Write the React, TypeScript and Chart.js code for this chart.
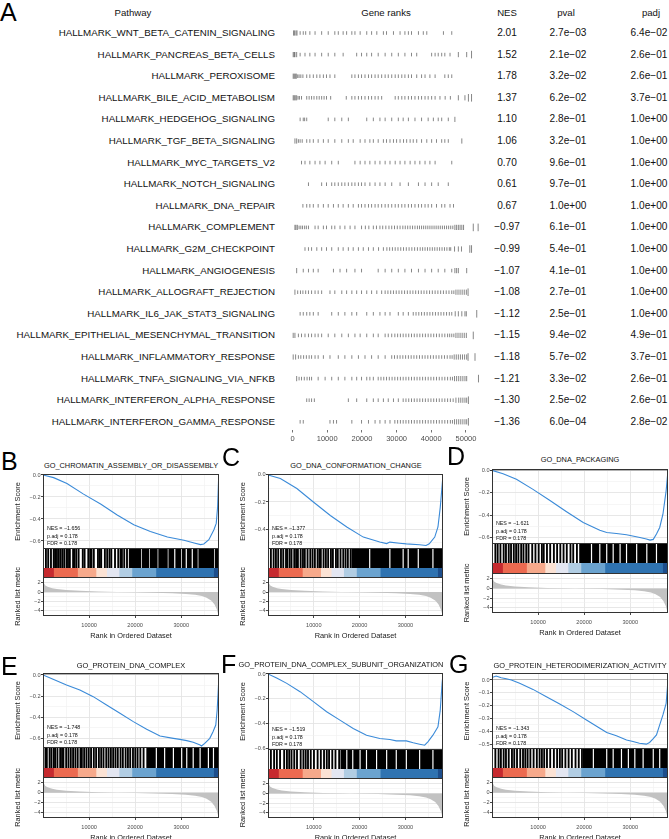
import React, { useEffect, useRef } from 'react';
import { Chart, registerables } from 'chart.js';
Chart.register(...registerables);

const FONT = "'Liberation Sans', Arial, Helvetica, sans-serif";

// ---------------- DATA: Panel A (fgsea table) ----------------
const pathways = [
  'HALLMARK_WNT_BETA_CATENIN_SIGNALING', 'HALLMARK_PANCREAS_BETA_CELLS', 'HALLMARK_PEROXISOME',
  'HALLMARK_BILE_ACID_METABOLISM', 'HALLMARK_HEDGEHOG_SIGNALING', 'HALLMARK_TGF_BETA_SIGNALING',
  'HALLMARK_MYC_TARGETS_V2', 'HALLMARK_NOTCH_SIGNALING', 'HALLMARK_DNA_REPAIR', 'HALLMARK_COMPLEMENT',
  'HALLMARK_G2M_CHECKPOINT', 'HALLMARK_ANGIOGENESIS', 'HALLMARK_ALLOGRAFT_REJECTION',
  'HALLMARK_IL6_JAK_STAT3_SIGNALING', 'HALLMARK_EPITHELIAL_MESENCHYMAL_TRANSITION',
  'HALLMARK_INFLAMMATORY_RESPONSE', 'HALLMARK_TNFA_SIGNALING_VIA_NFKB',
  'HALLMARK_INTERFERON_ALPHA_RESPONSE', 'HALLMARK_INTERFERON_GAMMA_RESPONSE',
];
const nesValues = [2.01, 1.52, 1.78, 1.37, 1.10, 1.06, 0.70, 0.61, 0.67, -0.97, -0.99, -1.07, -1.08, -1.12, -1.15, -1.18, -1.21, -1.30, -1.36];
const pvalValues = [2.7e-3, 2.1e-2, 3.2e-2, 6.2e-2, 2.8e-1, 3.2e-1, 9.6e-1, 9.7e-1, 1.0, 6.1e-1, 5.4e-1, 4.1e-1, 2.7e-1, 2.5e-1, 9.4e-2, 5.7e-2, 3.3e-2, 2.5e-2, 6.0e-4];
const padjValues = [6.4e-2, 2.6e-1, 2.6e-1, 3.7e-1, 1.0, 1.0, 1.0, 1.0, 1.0, 1.0, 1.0, 1.0, 1.0, 1.0, 4.9e-1, 3.7e-1, 2.6e-1, 2.6e-1, 2.8e-2];
const geneRankTicks = [0, 10000, 20000, 30000, 40000, 50000];

// gene positions (thousands of ranks) for each pathway row
const r1 = [0.3,0.6,1.0,1.3,2.2,3.1,3.8,5.0,6.5,8.4,10.3,12.2,13.2,14.6,15.6,17.1,18.0,19.5,21.4,22.8,24.3,26.2,27.1,29.1,31.0,32.4,33.4,34.3,36.3,37.7,38.7,43.5,45.9];
const r2 = [0.2,0.5,0.7,1.2,2.2,3.6,5.0,6.5,8.4,10.3,12.2,14.6,18.5,19.9,21.4,22.8,24.7,26.7,28.6,30.5,32.4,34.3,35.8,40.1,41.1,42.0,43.0,43.9,45.4,47.8,50.2,51.6];
const r3 = [0.2,0.5,0.8,1.1,1.5,1.9,2.4,3.0,4.1,5.0,6.0,7.0,7.9,8.9,9.8,10.8,12.2,17.1,18.0,19.0,19.9,20.9,21.9,22.8,23.8,24.7,25.7,26.7,27.6,28.6,29.6,30.5,31.5,32.4,33.4,34.3,35.8,37.2,38.2,39.6,41.1,43.9,44.9,45.9];
const r4 = [0.2,0.5,0.8,1.2,1.6,2.0,2.6,4.1,4.8,5.5,6.2,7.0,7.7,8.4,9.1,9.8,11.0,15.5,17.1,18.0,19.0,19.9,20.9,21.9,22.8,23.8,24.7,25.7,29.6,30.5,31.5,32.4,33.4,34.3,35.3,36.3,37.2,38.2,39.1,40.1,41.1,42.5,44.0,45.5,47.8,49.7,50.7,51.6];
const r5 = [2.2,3.1,3.5,4.1,10.3,12.2,14.2,16.1,21.4,23.3,25.2,26.7,28.6,30.5,31.9,33.4,35.3,37.2,39.1,40.6,42.0,43.0,44.9,46.8];
const r6 = [0.7,1.2,1.7,2.2,2.8,4.1,5.0,6.0,7.4,8.9,10.3,12.2,14.2,16.1,17.5,19.5,20.9,22.3,23.3,24.7,26.2,27.1,28.1,29.1,30.0,31.0,32.0,32.9,33.9,34.8,35.8,37.2,38.7,40.1,41.5,43.0,43.9,44.9,48.8];
const r7 = [2.6,3.6,5.0,6.5,7.9,9.4,11.3,13.2,18.0,19.5,20.9,22.3,23.8,25.2,26.7,28.1,29.6,31.0,32.4,33.9,35.3,36.7,38.2,39.6,41.1,45.9];
const r8 = [4.6,8.4,9.8,11.3,12.2,13.2,14.2,15.1,16.1,17.1,18.0,19.0,19.9,20.9,22.3,23.8,25.2,26.7,28.6,31.0,33.4,36.3,38.2,40.1,42.0,44.9];
const r9 = [3.0,4.1,5.0,6.0,7.4,8.9,10.3,11.8,13.2,14.6,16.1,17.5,19.0,19.9,20.9,21.9,22.8,23.8,24.7,25.7,26.7,27.6,28.6,29.6,30.5,31.5,32.4,33.4,34.3,35.3,36.3,37.2,38.2,39.1,40.1,41.5,43.0,43.9,45.4,46.4];
const r10 = [0.7,1.0,1.4,1.9,2.4,2.9,3.5,4.0,4.6,6.5,7.4,8.9,9.8,11.3,12.2,13.7,15.1,16.6,18.0,19.9,21.0,22.0,23.3,24.2,25.2,26.0,26.9,27.8,28.6,29.4,30.2,31.0,31.8,32.5,33.2,33.9,34.6,35.3,36.0,36.6,37.2,37.8,38.4,39.0,39.6,40.2,40.8,41.4,42.0,42.6,43.2,43.8,44.4,45.0,45.6,46.2,46.8,47.3,47.8,48.3,48.8,49.3,52.1,53.5];
const r11 = [3.6,4.6,5.5,7.0,8.4,9.8,11.3,13.2,14.6,16.1,17.5,19.0,20.4,21.9,23.3,24.8,26.2,27.2,28.0,28.8,29.6,30.4,31.2,32.0,32.8,33.6,34.4,35.2,36.0,36.8,37.5,38.2,38.9,39.6,40.3,41.0,41.7,42.4,43.1,43.8,44.5,45.2,45.6,46.7,47.8,48.7,51.1,51.6];
const r12 = [1.2,3.1,4.6,6.0,7.4,11.8,13.7,15.6,18.0,19.9,24.7,26.7,28.6,30.5,32.4,34.3,36.3,38.2,40.1,42.0,43.9,45.9,46.8,47.3,47.8,50.2];
const r13 = [0.7,1.5,2.3,3.0,3.8,4.6,5.5,6.5,7.4,8.4,10.8,12.2,14.2,15.6,17.1,18.5,19.9,21.4,22.8,24.3,25.7,26.7,27.5,28.3,29.1,29.9,30.7,31.5,32.3,33.1,33.9,34.7,35.5,36.3,37.1,37.9,38.7,39.5,40.3,41.1,41.9,42.7,43.5,44.3,45.1,45.9,46.5,47.1,47.7,48.3,48.9,49.5,50.1,50.6];
const r14 = [2.2,3.1,4.1,5.0,6.0,7.4,11.3,13.2,15.1,17.1,18.5,21.4,23.3,25.2,26.7,28.1,30.5,31.9,33.4,34.8,35.6,36.4,37.2,38.0,38.8,39.6,40.4,41.2,42.0,42.8,43.6,44.4,45.2,45.9,46.9,47.8,48.8,49.7,50.1,53.1];
const r15 = [0.2,0.7,1.7,2.6,3.6,4.6,5.5,6.5,7.4,8.4,10.3,12.2,14.2,16.1,18.0,19.5,21.4,23.3,24.7,26.7,27.6,28.6,29.5,30.3,31.1,31.9,32.7,33.5,34.3,35.1,35.9,36.7,37.5,38.3,39.1,39.9,40.7,41.5,42.3,43.1,43.9,44.7,45.3,45.9,46.5,47.1,47.7,48.3,48.9,49.5,50.1,52.1];
const r16 = [0.2,0.9,1.7,2.4,3.2,4.0,4.8,5.5,6.5,7.4,8.9,10.8,13.2,15.1,17.1,19.0,20.9,22.8,24.7,26.7,28.6,29.4,30.2,31.0,31.8,32.6,33.4,34.2,35.0,35.8,36.6,37.4,38.2,39.0,39.8,40.6,41.4,42.2,43.0,43.8,44.6,45.4,46.0,46.6,47.2,47.8,48.4,49.0,49.6,50.2,50.6,52.6];
const r17 = [1.2,1.9,2.6,3.4,4.2,4.9,5.5,7.4,9.4,11.3,13.2,15.1,17.1,18.5,19.9,21.4,22.3,23.3,24.7,25.5,26.3,27.1,27.9,28.7,29.5,30.3,31.1,31.9,32.7,33.5,34.3,35.1,35.9,36.7,37.5,38.3,39.1,39.9,40.7,41.5,42.3,43.1,43.9,44.7,45.5,46.1,46.7,47.3,47.9,48.5,49.1,49.7,50.2,53.6];
const r18 = [4.1,4.8,5.5,6.3,16.1,18.5,21.4,23.3,24.7,26.2,27.6,29.1,30.5,31.9,32.7,33.5,34.3,35.1,35.9,36.7,37.5,38.3,39.1,39.9,40.7,41.5,42.3,43.1,43.9,44.7,45.5,46.3,47.1,47.9,48.5,49.1,49.7,50.2,50.7];
const r19 = [2.2,3.1,10.8,11.8,12.7,17.1,19.9,21.9,23.8,25.2,26.7,28.1,29.5,30.3,31.1,31.9,32.7,33.5,34.3,35.1,35.9,36.7,37.5,38.3,39.1,39.9,40.7,41.5,42.3,43.1,43.9,44.7,45.5,46.1,46.7,47.3,47.9,48.5,49.1,49.7,50.2,50.7];
const geneRankRows = [r1, r2, r3, r4, r5, r6, r7, r8, r9, r10, r11, r12, r13, r14, r15, r16, r17, r18, r19];

// ---------------- DATA: GSEA panels B-G ----------------
const gseaIds = ['B', 'C', 'D', 'E', 'F', 'G'];
const gseaTitles = ['GO_CHROMATIN_ASSEMBLY_OR_DISASSEMBLY', 'GO_DNA_CONFORMATION_CHANGE', 'GO_DNA_PACKAGING', 'GO_PROTEIN_DNA_COMPLEX', 'GO_PROTEIN_DNA_COMPLEX_SUBUNIT_ORGANIZATION', 'GO_PROTEIN_HETERODIMERIZATION_ACTIVITY'];
const gseaNES = [-1.656, -1.377, -1.621, -1.748, -1.519, -1.343];
const gseaPadj = [0.178, 0.178, 0.178, 0.178, 0.178, 0.178];
const gseaFDR = [0.178, 0.178, 0.178, 0.178, 0.178, 0.178];
const N_RANKS = 38.2; // thousands

// running enrichment score: rank (thousands) / score
const esRankB = [0,2.3,5.2,8.8,12.5,16.1,19.7,23.3,27.0,30.6,32.8,34.2,34.9,36.0,37.1,37.6,37.9,38.1,38.2];
const esScoreB = [0,-0.024,-0.078,-0.174,-0.264,-0.363,-0.453,-0.513,-0.564,-0.594,-0.618,-0.633,-0.627,-0.588,-0.498,-0.44,-0.29,-0.05,0];
const esRankC = [0,2.7,6.3,9.9,13.6,17.2,20.8,24.4,25.9,26.6,28.7,30.2,33.1,34.5,35.2,36.4,37.1,37.6,38.2];
const esScoreC = [0,-0.027,-0.10,-0.20,-0.30,-0.385,-0.46,-0.496,-0.508,-0.497,-0.505,-0.51,-0.516,-0.522,-0.51,-0.46,-0.385,-0.24,0];
const esRankD = [0,2.4,5.3,8.9,12.5,16.1,19.8,23.4,24.9,27.0,29.2,32.1,33.5,34.3,35.0,35.7,36.4,37.1,37.8,38.2];
const esScoreD = [0,-0.03,-0.08,-0.169,-0.266,-0.366,-0.464,-0.532,-0.553,-0.561,-0.573,-0.597,-0.611,-0.62,-0.614,-0.567,-0.508,-0.39,-0.18,0];
const esRankE = [0,2.2,5.1,8.0,10.9,13.8,16.7,19.6,22.5,25.4,28.3,29.7,31.2,32.6,34.1,34.4,35.1,36.2,36.9,37.5,37.8,38.0,38.2];
const esScoreE = [0,-0.041,-0.095,-0.143,-0.206,-0.286,-0.365,-0.444,-0.517,-0.581,-0.603,-0.613,-0.625,-0.641,-0.667,-0.676,-0.651,-0.603,-0.54,-0.476,-0.333,-0.175,0];
const esRankF = [0,2.0,4.1,7.0,9.9,12.8,15.7,18.6,21.5,24.4,26.6,28.0,30.2,31.7,33.1,34.2,34.9,36.0,37.1,37.6,38.0,38.2];
const esScoreF = [0,-0.035,-0.076,-0.143,-0.224,-0.305,-0.373,-0.441,-0.495,-0.522,-0.530,-0.541,-0.541,-0.557,-0.568,-0.576,-0.549,-0.495,-0.427,-0.292,-0.076,0];
const esRankG = [0,0.9,2.0,3.1,4.2,6.0,8.9,11.8,14.7,17.6,20.5,23.4,24.9,27.0,29.2,30.6,32.0,33.5,34.2,34.9,35.7,36.4,37.1,37.8,38.2];
const esScoreG = [0.02,0.031,0.018,0.01,0,-0.026,-0.073,-0.13,-0.187,-0.247,-0.312,-0.377,-0.41,-0.436,-0.468,-0.481,-0.494,-0.501,-0.488,-0.462,-0.429,-0.351,-0.273,-0.182,0];
const esRanks = [esRankB, esRankC, esRankD, esRankE, esRankF, esRankG];
const esScores = [esScoreB, esScoreC, esScoreD, esScoreE, esScoreF, esScoreG];

// hits (thousands of ranks): single genes or contiguous runs [from, to]
const hitsB = [0.5,1.0,1.6,2.2,2.5,2.9,3.3,3.7,4.1,4.5,5.0,5.3,5.7,6.4,6.7,7.1,7.6,8.5,8.9,9.7,10.1,10.4,10.9,11.8,12.2,12.5,13.3,13.8,14.3,14.7,15.5,16.2,16.7,17.0,17.5,18.1,[18.7,21.2],[21.5,23.0],[23.3,24.8],[25.1,27.0],[27.3,28.4],[28.8,29.9],[30.2,30.9],[31.3,32.2],[32.6,33.5],[33.8,37.1],[37.4,38.2]];
const hitsC = [0.5,1.1,1.6,2.1,2.7,3.2,3.8,4.1,4.6,5.0,5.6,6.0,6.4,7.0,7.5,7.9,8.5,9.1,9.6,10.1,10.7,11.1,11.4,12.0,12.5,13.0,13.6,[14.0,14.3],14.7,15.1,15.7,16.3,16.8,17.3,17.9,[18.3,22.0],[22.4,26.4],[26.8,29.3],[29.7,30.4],[30.8,32.6],[33.0,35.8],[36.2,38.2]];
const hitsD = [0.6,1.1,1.7,2.4,2.9,3.5,4.0,4.6,5.1,5.6,6.2,6.7,7.3,7.8,8.6,9.3,10.0,10.7,11.1,11.8,12.5,13.3,14.0,14.7,15.4,16.1,16.9,17.5,18.3,[19.0,21.4],[21.8,23.2],[23.6,24.7],[25.1,26.1],[26.5,27.6],[28.0,29.0],[29.4,31.2],[31.6,33.4],[33.8,35.5],[35.9,38.2]];
const hitsE = [0.4,0.7,1.3,1.7,2.2,2.5,3.0,3.6,4.0,4.3,4.9,5.4,5.9,6.4,6.9,7.4,8.0,8.3,8.8,9.3,9.8,10.3,10.9,11.4,12.0,12.5,13.0,13.6,14.1,14.6,15.1,15.6,16.1,16.7,17.2,17.8,18.3,18.8,19.4,19.9,20.4,21.0,21.7,22.5,[22.8,24.4],[24.8,26.2],[26.6,28.1],[28.5,29.9],[30.3,31.0],[31.4,32.4],[32.8,33.9],[34.3,35.7],[36.1,36.8],[37.2,38.2]];
const hitsF = [0.5,1.2,1.8,2.5,3.4,4.0,4.5,5.0,5.6,6.2,7.0,7.6,8.1,8.6,9.2,9.9,10.7,11.4,12.1,12.7,13.2,13.9,14.6,15.4,15.9,[16.1,17.0],[17.4,18.3],[18.7,19.9],[20.3,21.3],[21.7,23.5],[23.9,25.7],[26.1,27.8],[28.2,30.0],[30.4,32.9],[33.3,35.8],[36.2,38.2]];
const hitsG = [0.6,1.3,1.8,2.4,2.9,3.5,4.2,4.7,5.3,6.0,6.6,7.1,7.6,8.2,8.9,9.6,10.2,10.7,11.2,11.8,12.5,13.3,14.0,14.6,15.1,15.8,16.5,17.2,18.0,18.7,19.4,[19.8,21.8],[22.2,24.7],[25.1,26.1],[26.5,27.9],[28.3,29.4],[29.8,30.8],[31.2,32.6],[33.0,34.8],[35.2,36.2],[36.6,38.2]];
const gseaHits = [hitsB, hitsC, hitsD, hitsE, hitsF, hitsG];

// ranked list metric (shared)
const rankMetricX = [0,0.15,0.5,1,2,3,5,8,12,16,20,24,28,31,33,34.5,35.5,36.5,37.2,37.7,38.0,38.2];
const rankMetricY = [3.0,2.0,1.4,1.1,0.8,0.62,0.42,0.25,0.1,0.02,-0.05,-0.13,-0.25,-0.4,-0.6,-0.85,-1.2,-1.8,-2.6,-3.6,-4.6,-5.0];

// colour band (rank breaks in thousands + RdBu colours)
const bandBreaks = [0, 2.3, 7.5, 11.5, 13.8, 16.5, 19.3, 24.5, 37.0, 38.2];
const bandColors = ['#c62a2f', '#ec6a50', '#f6a98b', '#fbe2d4', '#e3e6f1', '#b1cde3', '#6ba3cf', '#2f73b1', '#1d4e8c'];

// tick labels
const esTicksB = [0, -0.2, -0.4, -0.6];
const esTicksC = [0, -0.2, -0.4];
const esTicksD = [0, -0.2, -0.4, -0.6];
const esTicksE = [0, -0.2, -0.4, -0.6];
const esTicksF = [0, -0.2, -0.4, -0.6];
const esTicksG = [0, -0.1, -0.2, -0.3, -0.4, -0.5];
const esTicks = [esTicksB, esTicksC, esTicksD, esTicksE, esTicksF, esTicksG];
const rankTicks = [2, 0, -2, -4];
const rankXTicks = [10000, 20000, 30000];
const rankXGrid = [5, 10, 15, 20, 25, 30, 35];

// ---------------- LAYOUT ----------------
const LAYOUT = [
  { L: 43, R: 219, top: 474, esH: 75, bcH: 19, colH: 9, rkH: 39, esMin: -0.673, esMax: 0.009, titleX: 131, titleY: 466, letterX: 1, letterY: 449 },
  { L: 268, R: 443, top: 474, esH: 75, bcH: 19, colH: 9, rkH: 39, esMin: -0.548, esMax: 0.007, titleX: 356, titleY: 466, letterX: 222, letterY: 445 },
  { L: 492, R: 668, top: 469, esH: 75, bcH: 19, colH: 10, rkH: 40, esMin: -0.655, esMax: 0.012, titleX: 580, titleY: 460, letterX: 447, letterY: 444 },
  { L: 43, R: 219, top: 673, esH: 75, bcH: 20, colH: 9, rkH: 41, esMin: -0.695, esMax: 0.019, titleX: 131, titleY: 666, letterX: 1, letterY: 654 },
  { L: 268, R: 443, top: 673, esH: 77, bcH: 19, colH: 9, rkH: 40, esMin: -0.615, esMax: 0.008, titleX: 341, titleY: 665, letterX: 221, letterY: 652 },
  { L: 492, R: 668, top: 673, esH: 76, bcH: 19, colH: 9, rkH: 41, esMin: -0.539, esMax: 0.055, titleX: 580, titleY: 666, letterX: 449, letterY: 652 },
];
const RANK_Y_MIN = -5.1;
const RANK_Y_MAX = 3.2;
const ES_COLOR = '#3a8ad8';
const GRID_MAJOR = '#e4e4e4';
const GRID_MINOR = '#f0f0f0';
const AXIS_TEXT = '#4d4d4d';
const ROW0_Y = 33;
const ROW_STEP = 21.6;

// ---------------- helpers ----------------
const minus = (s) => s.replace(/-/g, '\u2212');
const fmtE = (v) => {
  const [m, e] = v.toExponential(1).split('e');
  const n = parseInt(e, 10);
  return `${m}e${n < 0 ? '\u2212' : '+'}${String(Math.abs(n)).padStart(2, '0')}`;
};
const fmtNES = (v) => minus(v.toFixed(2));

const baseOpts = {
  animation: false,
  responsive: false,
  devicePixelRatio: 1,
  events: [],
  plugins: { legend: { display: false }, tooltip: { enabled: false } },
};

function ChartBox({ left, top, width, height, config }) {
  const ref = useRef(null);
  useEffect(() => {
    const chart = new Chart(ref.current, config);
    return () => chart.destroy();
  }, []);
  return (
    <canvas
      ref={ref}
      width={width}
      height={height}
      style={{ position: 'absolute', left, top, width, height }}
    />
  );
}

function Txt({ x, y, size, align = 'center', color = '#111', children }) {
  const tx = align === 'center' ? '-50%' : align === 'right' ? '-100%' : '0';
  return (
    <div
      style={{
        position: 'absolute', left: x, top: y, transform: `translate(${tx}, -50%)`,
        fontSize: size, lineHeight: 1, fontFamily: FONT, color, whiteSpace: 'nowrap',
      }}
    >
      {children}
    </div>
  );
}

function Letter({ x, y, children }) {
  return (
    <div style={{ position: 'absolute', left: x, top: y, fontSize: 25, lineHeight: '25px', fontFamily: FONT, color: '#000' }}>
      {children}
    </div>
  );
}

// ---------------- Panel A ----------------
function tableConfig() {
  const points = geneRankRows.flatMap((row, i) => row.map((v) => ({ x: v * 1000, y: i })));
  return {
    type: 'scatter',
    data: {
      datasets: [{
        data: points,
        pointStyle: 'line',
        pointRotation: 90,
        pointRadius: (c) => {
          const x = c.raw ? c.raw.x : 0;
          if (x > 50500) return 3.8;
          if (x > 46500) return 2.6;
          if (x < 1500) return 2.6;
          return 1.8;
        },
        pointBorderColor: 'rgba(0,0,0,0.8)',
        pointBorderWidth: 0.6,
        pointBackgroundColor: '#000',
      }],
    },
    options: {
      ...baseOpts,
      layout: { padding: { left: 5, right: 5, top: 22.2, bottom: 2.5 } },
      scales: {
        x: {
          type: 'linear', min: -2160, max: 55480,
          afterBuildTicks: (s) => { s.ticks = geneRankTicks.map((v) => ({ value: v })); },
          afterFit: (s) => { s.height = 18; },
          ticks: { autoSkip: false, maxRotation: 0, padding: 1.5, font: { family: FONT, size: 7.5 }, color: AXIS_TEXT, callback: (v) => String(v) },
          grid: { drawOnChartArea: false, tickLength: 3, tickColor: '#333', tickWidth: 0.7 },
          border: { display: false },
        },
        y: { type: 'linear', reverse: true, min: -0.5, max: 18.356, display: false },
      },
    },
  };
}

function TablePanel() {
  return (
    <>
      <Letter x={0} y={0}>A</Letter>
      <Txt x={133} y={13} size={9.6}>Pathway</Txt>
      <Txt x={386} y={13} size={9.6}>Gene ranks</Txt>
      <Txt x={507} y={13} size={9.6}>NES</Txt>
      <Txt x={566} y={13} size={9.6}>pval</Txt>
      <Txt x={651} y={13} size={9.6}>padj</Txt>
      {pathways.map((p, i) => {
        const y = ROW0_Y + i * ROW_STEP;
        return (
          <React.Fragment key={p}>
            <Txt x={275} y={y} size={9.75} align="right">{p}</Txt>
            <Txt x={507} y={y} size={10.1}>{fmtNES(nesValues[i])}</Txt>
            <Txt x={568} y={y} size={10.1}>{fmtE(pvalValues[i])}</Txt>
            <Txt x={649} y={y} size={10.1}>{fmtE(padjValues[i])}</Txt>
          </React.Fragment>
        );
      })}
      <ChartBox left={280} top={0} width={210} height={450} config={tableConfig()} />
    </>
  );
}

// ---------------- GSEA panels ----------------
const isIn = (arr, v) => arr.some((a) => Math.abs(a - v) < 1e-6);

function withMinors(majors, lo, hi) {
  const step = Math.abs(majors[1] - majors[0]);
  const out = [...majors];
  majors.forEach((m) => {
    [step / 2, -step / 2].forEach((d) => {
      const v = +(m + d).toFixed(5);
      if (v >= lo && v <= hi && !isIn(out, v)) out.push(v);
    });
  });
  return out.sort((a, b) => a - b);
}

const xGridOpts = {
  color: (c) => (c.tick && c.tick.value % 10000 === 0 ? GRID_MAJOR : GRID_MINOR),
  lineWidth: (c) => (c.tick && c.tick.value % 10000 === 0 ? 0.9 : 0.6),
};

function esConfig(i) {
  const lay = LAYOUT[i];
  const majors = esTicks[i];
  const yt = withMinors(majors, lay.esMin, lay.esMax);
  return {
    type: 'line',
    data: {
      datasets: [{
        data: esRanks[i].map((x, k) => ({ x: x * 1000, y: esScores[i][k] })),
        borderColor: ES_COLOR, borderWidth: 1.1, pointRadius: 0, tension: 0, fill: false,
      }],
    },
    options: {
      ...baseOpts,
      layout: { padding: { left: 0, right: 4, top: 6, bottom: 6 } },
      scales: {
        x: {
          type: 'linear', min: 0, max: N_RANKS * 1000,
          afterBuildTicks: (s) => { s.ticks = rankXGrid.map((v) => ({ value: v * 1000 })); },
          afterFit: (s) => { s.height = 0; },
          ticks: { display: false },
          grid: { drawTicks: false, ...xGridOpts },
          border: { display: false },
        },
        y: {
          type: 'linear', min: lay.esMin, max: lay.esMax,
          afterBuildTicks: (s) => { s.ticks = yt.map((v) => ({ value: v })); },
          afterFit: (s) => { s.width = 43; },
          ticks: {
            autoSkip: false, padding: 0.5, font: { family: FONT, size: 5.6 }, color: AXIS_TEXT,
            callback: (v) => (isIn(majors, v) ? minus(Number(v).toFixed(1)) : ''),
          },
          grid: {
            tickLength: 2,
            tickColor: (c) => (isIn(majors, c.tick.value) ? '#333' : 'rgba(0,0,0,0)'),
            color: (c) => (Math.abs(c.tick.value) < 1e-9 ? '#b3b3b3' : isIn(majors, c.tick.value) ? GRID_MAJOR : GRID_MINOR),
            lineWidth: (c) => (Math.abs(c.tick.value) < 1e-9 ? 1.1 : isIn(majors, c.tick.value) ? 0.9 : 0.6),
          },
          border: { display: false },
          title: { display: true, text: 'Enrichment Score', font: { family: FONT, size: 7.4 }, color: '#1a1a1a', padding: { top: 13.5, bottom: 0 } },
        },
      },
    },
  };
}

function stripConfig(runs, colors, minLen) {
  return {
    type: 'bar',
    data: {
      labels: ['s'],
      datasets: runs.map((r, k) => ({
        data: [[r[0] * 1000, r[1] * 1000]],
        backgroundColor: colors[k],
        borderWidth: 0,
        barPercentage: 1,
        categoryPercentage: 1,
        grouped: false,
        minBarLength: minLen,
      })),
    },
    options: {
      ...baseOpts,
      indexAxis: 'y',
      layout: { padding: 0 },
      scales: {
        x: { type: 'linear', min: 0, max: N_RANKS * 1000, display: false },
        y: { display: false },
      },
    },
  };
}

function barcodeConfig(i) {
  const runs = gseaHits[i].map((h) => (typeof h === 'number' ? [h, h] : h));
  return stripConfig(runs, runs.map(() => '#000'), 1.2);
}

function bandConfig() {
  const runs = bandColors.map((_, k) => [bandBreaks[k], bandBreaks[k + 1]]);
  return stripConfig(runs, bandColors, 0);
}

function rankConfig() {
  const yt = withMinors(rankTicks.slice().sort((a, b) => b - a), RANK_Y_MIN, RANK_Y_MAX);
  return {
    type: 'line',
    data: {
      datasets: [{
        data: rankMetricX.map((x, k) => ({ x: x * 1000, y: rankMetricY[k] })),
        borderColor: 'rgba(0,0,0,0)', borderWidth: 0, backgroundColor: '#c2c2c2',
        fill: 'origin', pointRadius: 0, tension: 0,
      }],
    },
    options: {
      ...baseOpts,
      layout: { padding: { left: 0, right: 6, top: 14, bottom: 0 } },
      scales: {
        x: {
          type: 'linear', min: 0, max: N_RANKS * 1000,
          afterBuildTicks: (s) => { s.ticks = rankXGrid.map((v) => ({ value: v * 1000 })); },
          afterFit: (s) => { s.height = 26; },
          ticks: {
            autoSkip: false, maxRotation: 0, padding: 4, font: { family: FONT, size: 5.6 }, color: AXIS_TEXT,
            callback: (v) => (rankXTicks.includes(v) ? String(v) : ''),
          },
          grid: {
            tickLength: 2,
            tickColor: (c) => (rankXTicks.includes(c.tick.value) ? '#333' : 'rgba(0,0,0,0)'),
            ...xGridOpts,
          },
          border: { display: false },
          title: { display: true, text: 'Rank in Ordered Dataset', font: { family: FONT, size: 7.4 }, color: '#1a1a1a', padding: { top: 0, bottom: 2 } },
        },
        y: {
          type: 'linear', min: RANK_Y_MIN, max: RANK_Y_MAX,
          afterBuildTicks: (s) => { s.ticks = yt.map((v) => ({ value: v })); },
          afterFit: (s) => { s.width = 43; },
          ticks: {
            autoSkip: false, padding: 0.5, font: { family: FONT, size: 5.6 }, color: AXIS_TEXT,
            callback: (v) => (rankTicks.includes(v) ? minus(String(v)) : ''),
          },
          grid: {
            tickLength: 2,
            tickColor: (c) => (rankTicks.includes(c.tick.value) ? '#333' : 'rgba(0,0,0,0)'),
            color: (c) => (rankTicks.includes(c.tick.value) ? GRID_MAJOR : GRID_MINOR),
            lineWidth: (c) => (rankTicks.includes(c.tick.value) ? 0.9 : 0.6),
          },
          border: { display: false },
          title: { display: true, text: 'Ranked list metric', font: { family: FONT, size: 7.4 }, color: '#1a1a1a', padding: { top: 13.5, bottom: 0 } },
        },
      },
    },
  };
}

function GseaPanel({ i }) {
  const lay = LAYOUT[i];
  const W = lay.R - lay.L;
  const esBot = lay.top + lay.esH;
  const bcBot = esBot + lay.bcH;
  const colBot = bcBot + lay.colH;
  const total = lay.esH + lay.bcH + lay.colH + lay.rkH;
  const line = '#333';
  return (
    <>
      <Letter x={lay.letterX} y={lay.letterY}>{gseaIds[i]}</Letter>
      <Txt x={lay.titleX} y={lay.titleY} size={7.4}>{gseaTitles[i]}</Txt>
      <ChartBox left={lay.L - 43} top={lay.top - 6} width={W + 47} height={lay.esH + 12} config={esConfig(i)} />
      <ChartBox left={lay.L} top={esBot} width={W} height={lay.bcH} config={barcodeConfig(i)} />
      <ChartBox left={lay.L} top={bcBot} width={W} height={lay.colH} config={bandConfig()} />
      <ChartBox left={lay.L - 43} top={colBot - 14} width={W + 49} height={lay.rkH + 40} config={rankConfig()} />
      <Txt x={lay.L + 4} y={esBot - 20} size={5.3} align="left">{`NES = ${minus(gseaNES[i].toFixed(3))}`}</Txt>
      <Txt x={lay.L + 4} y={esBot - 12.5} size={5.3} align="left">{`p.adj = ${gseaPadj[i].toFixed(3)}`}</Txt>
      <Txt x={lay.L + 4} y={esBot - 5} size={5.3} align="left">{`FDR = ${gseaFDR[i].toFixed(3)}`}</Txt>
      <div style={{ position: 'absolute', left: lay.L, top: lay.top, width: W, height: total, border: `1px solid ${line}`, boxSizing: 'border-box' }} />
      <div style={{ position: 'absolute', left: lay.L, top: esBot - 1, width: W, height: 1, background: line }} />
      <div style={{ position: 'absolute', left: lay.L, top: colBot, width: W, height: 1, background: line }} />
    </>
  );
}

export default function App() {
  return (
    <div style={{ position: 'absolute', left: 0, top: 0, width: 669, height: 839, background: '#fff', overflow: 'hidden', fontFamily: FONT }}>
      <TablePanel />
      {gseaIds.map((id, i) => <GseaPanel key={id} i={i} />)}
    </div>
  );
}
